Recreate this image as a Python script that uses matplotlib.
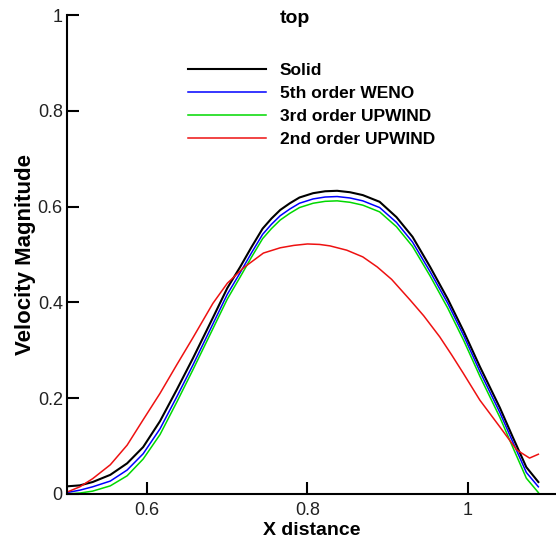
import numpy as np
import matplotlib
matplotlib.use('Agg')
import matplotlib.pyplot as plt

plt.rcParams['font.family'] = ['Liberation Sans', 'DejaVu Sans']

# x positions shared by the three close curves
x = [0.5, 0.516, 0.532, 0.554, 0.575, 0.595, 0.616, 0.637, 0.657, 0.682,
     0.7, 0.716, 0.73, 0.744, 0.755, 0.766, 0.778, 0.79, 0.807, 0.822,
     0.837, 0.853, 0.869, 0.89, 0.911, 0.931, 0.953, 0.975, 0.995, 1.015,
     1.04, 1.056, 1.073, 1.088]

solid = [0.016, 0.018, 0.025, 0.04, 0.064, 0.098, 0.152, 0.218, 0.283, 0.368,
         0.43, 0.474, 0.515, 0.554, 0.575, 0.593, 0.607, 0.619, 0.628, 0.632,
         0.633, 0.63, 0.624, 0.61, 0.578, 0.537, 0.474, 0.407, 0.339, 0.266,
         0.18, 0.119, 0.056, 0.025]

weno5 = [0.003, 0.008, 0.015, 0.027, 0.05, 0.084, 0.136, 0.203, 0.269, 0.355,
         0.417, 0.462, 0.503, 0.542, 0.563, 0.581, 0.595, 0.607, 0.616, 0.62,
         0.621, 0.618, 0.612, 0.598, 0.567, 0.526, 0.464, 0.398, 0.33, 0.256,
         0.17, 0.109, 0.045, 0.015]

upwind3 = [0.0, 0.002, 0.006, 0.017, 0.038, 0.073, 0.124, 0.192, 0.259, 0.345,
           0.407, 0.453, 0.494, 0.533, 0.554, 0.572, 0.586, 0.598, 0.607, 0.611,
           0.612, 0.609, 0.603, 0.589, 0.558, 0.517, 0.455, 0.388, 0.32, 0.246,
           0.16, 0.098, 0.033, 0.003]

# 2nd order upwind read at its own x positions
x2 = [0.5, 0.516, 0.532, 0.554, 0.575, 0.595, 0.616, 0.637, 0.657, 0.682,
      0.7, 0.72, 0.745, 0.766, 0.783, 0.8, 0.815, 0.828, 0.849, 0.869,
      0.887, 0.905, 0.928, 0.945, 0.965, 0.98, 0.994, 1.015, 1.04, 1.061,
      1.077, 1.088]
upwind2 = [0.004, 0.015, 0.032, 0.061, 0.102, 0.155, 0.21, 0.27, 0.326, 0.398,
           0.44, 0.472, 0.503, 0.514, 0.519, 0.522, 0.521, 0.518, 0.509, 0.495,
           0.474, 0.448, 0.405, 0.372, 0.328, 0.29, 0.253, 0.196, 0.14, 0.092,
           0.075, 0.083]

xticks = [0.6, 0.8, 1.0]
xticklabels = ['0.6', '0.8', '1']
yticks = [0, 0.2, 0.4, 0.6, 0.8, 1.0]
yticklabels = ['0', '0.2', '0.4', '0.6', '0.8', '1']

fig = plt.figure(figsize=(5.56, 5.46), dpi=100)
ax = fig.add_axes([67/556, 52/546, 489/556, 479/546])

ax.plot(x, solid, color='black', lw=1.5, label='Solid')
ax.plot(x, weno5, color='#0000ff', lw=1.1, label='5th order WENO')
ax.plot(x, upwind3, color='#00d800', lw=1.1, label='3rd order UPWIND')
ax.plot(x2, upwind2, color='#ee1111', lw=1.1, label='2nd order UPWIND')

ax.set_xlim(0.5, 1.11)
ax.set_ylim(0, 1)
ax.set_xticks(xticks)
ax.set_xticklabels(xticklabels)
ax.set_yticks(yticks)
ax.set_yticklabels(yticklabels)

ax.spines['top'].set_visible(False)
ax.spines['right'].set_visible(False)
ax.spines['left'].set_linewidth(1.5)
ax.spines['bottom'].set_linewidth(1.5)
ax.tick_params(direction='in', length=8.5, width=1.5, labelsize=13,
               labelcolor='#222222')
ax.tick_params(axis='x', pad=6)
ax.tick_params(axis='y', pad=3)

ax.set_xlabel('X distance', fontsize=14, fontweight='bold', labelpad=2)
ax.set_ylabel('Velocity Magnitude', fontsize=16, fontweight='bold', labelpad=1)
ax.text(0.436, 0.993, 'top', transform=ax.transAxes, fontsize=14,
        fontweight='bold', ha='left', va='center')

leg = ax.legend(loc='upper left', bbox_to_anchor=(0.2474, 0.9),
                frameon=False, borderpad=0, borderaxespad=0,
                handlelength=4.5, handletextpad=0.8, labelspacing=0.45,
                prop={'size': 12.5, 'weight': 'bold'})

plt.savefig('out.png', dpi=100)
